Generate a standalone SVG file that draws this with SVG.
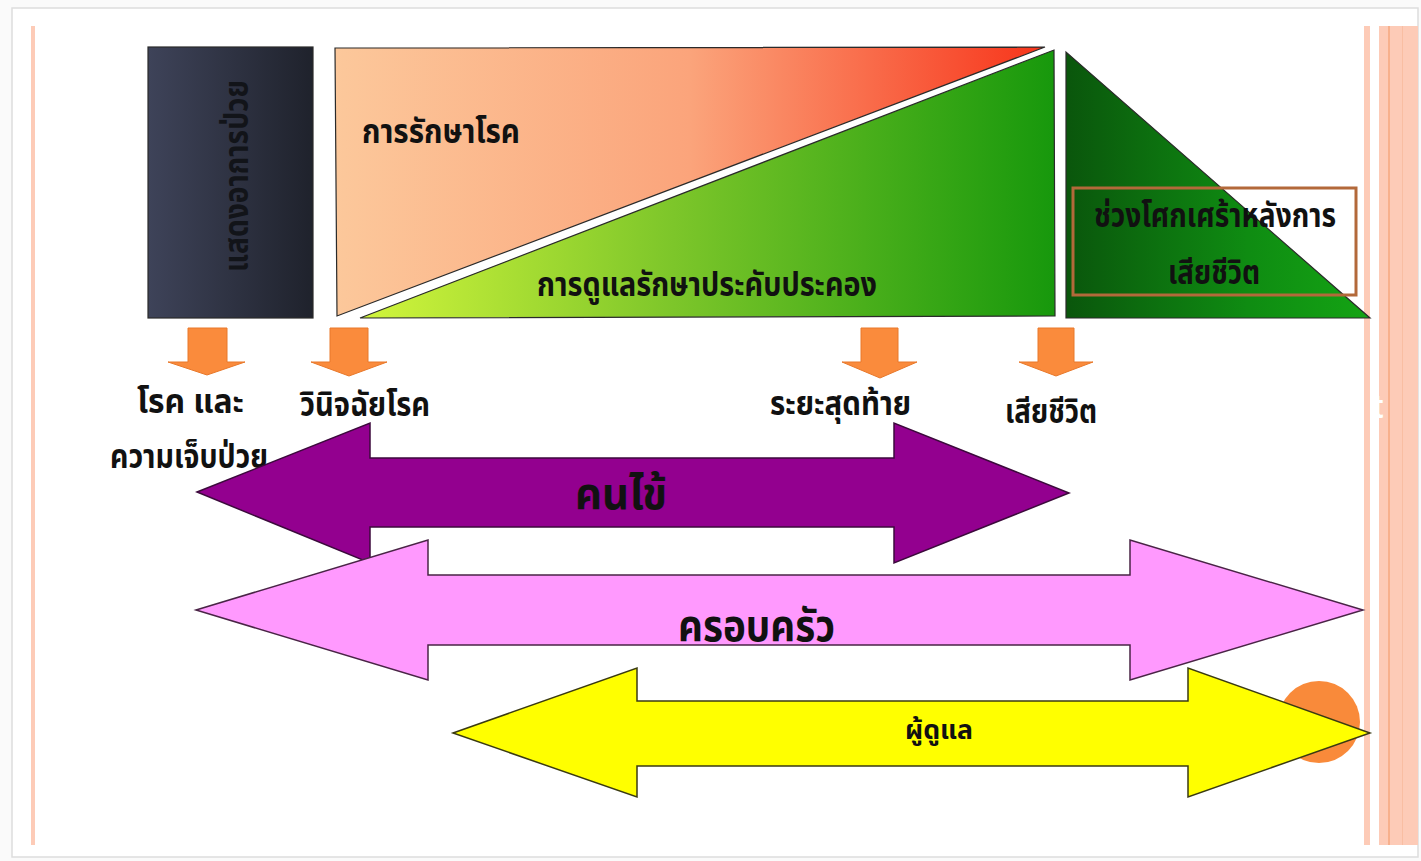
<svg xmlns="http://www.w3.org/2000/svg" width="1421" height="861" viewBox="0 0 1421 861">
<defs>
<linearGradient id="gDark" x1="0" y1="0" x2="1" y2="0"><stop offset="0" stop-color="#3e4359"/><stop offset="1" stop-color="#1f222c"/></linearGradient>
<linearGradient id="gRed" x1="0" y1="0" x2="1" y2="0"><stop offset="0" stop-color="#fcc89b"/><stop offset="0.5" stop-color="#fba47b"/><stop offset="1" stop-color="#f7341a"/></linearGradient>
<linearGradient id="gGreen" x1="0" y1="0" x2="1" y2="0"><stop offset="0" stop-color="#d2f53c"/><stop offset="0.45" stop-color="#7dc62a"/><stop offset="1" stop-color="#17980c"/></linearGradient>
<linearGradient id="gDkGreen" x1="0" y1="0" x2="1" y2="0"><stop offset="0" stop-color="#0a560c"/><stop offset="0.6" stop-color="#0f8c12"/><stop offset="1" stop-color="#14a414"/></linearGradient>
</defs>
<style>
.t{font-family:"Noto Sans Thai","Noto Sans","DejaVu Sans",sans-serif;font-weight:bold;fill:#111;}
.down{fill:#fa8b3c;stroke:#e8782a;stroke-width:1;}
.edge{stroke:#2a2a2a;stroke-width:1.2;}
.strip{fill:#fdcbb7;}
</style>
<rect x="0" y="0" width="1421" height="861" fill="#fafafa"/>
<rect x="12" y="8" width="1406" height="849" fill="#ffffff" stroke="#dddddd" stroke-width="1.5"/>
<g id="frame">
<rect class="strip" x="31" y="26" width="4" height="819"/>
<rect class="strip" x="1364" y="26" width="6" height="819"/>
<rect class="strip" x="1379" y="26" width="39" height="819"/>
<rect x="1388" y="26" width="2" height="819" fill="#f7b08c"/>
<rect x="1402" y="26" width="1" height="819" fill="#f9bea2"/>
<text x="1372" y="418" font-family="Liberation Sans, sans-serif" font-weight="bold" font-size="34" fill="#ffffff">t</text>
</g>
<g id="symptom">
<rect x="148" y="47" width="165" height="271" fill="url(#gDark)" class="edge"/>
<text transform="translate(248,176) rotate(-90)" text-anchor="middle" font-family="Noto Sans Thai, Noto Sans, DejaVu Sans, sans-serif" font-weight="bold" font-size="34" fill="#121419" textLength="192" lengthAdjust="spacingAndGlyphs">แสดงอาการป่วย</text>
</g>
<g id="cure">
<polygon points="335,48 1045,47 337,316" fill="url(#gRed)" class="edge"/>
<text class="t" x="362" y="143" font-size="34" textLength="158" lengthAdjust="spacingAndGlyphs">การรักษาโรค</text>
</g>
<g id="palliative">
<polygon points="360,318 1054,50 1055,316" fill="url(#gGreen)" class="edge"/>
<text class="t" x="537" y="296" font-size="34" textLength="340" lengthAdjust="spacingAndGlyphs">การดูแลรักษาประคับประคอง</text>
</g>
<g id="grief">
<polygon points="1066,52 1066,318 1370,318" fill="url(#gDkGreen)" class="edge"/>
<rect x="1073" y="188" width="283" height="107" fill="none" stroke="#b3693a" stroke-width="3"/>
<text class="t" x="1094" y="227" font-size="34" textLength="242" lengthAdjust="spacingAndGlyphs">ช่วงโศกเศร้าหลังการ</text>
<text class="t" x="1168" y="284" font-size="34" textLength="92" lengthAdjust="spacingAndGlyphs">เสียชีวิต</text>
</g>
<g id="connectors">
<polygon class="down" points="188,328 227,328 227,362 245,362 207,375 168,362 188,362"/>
<polygon class="down" points="330,328 368,328 368,362 387,362 349,376 311,362 330,362"/>
<polygon class="down" points="861,328 898,328 898,362 917,362 880,378 842,362 861,362"/>
<polygon class="down" points="1038,328 1074,328 1074,362 1093,362 1056,376 1019,362 1038,362"/>
</g>
<g id="stage-labels">
<text class="t" x="137" y="413" font-size="34" textLength="107" lengthAdjust="spacingAndGlyphs">โรค และ</text>
<text class="t" x="110" y="468" font-size="34" textLength="158" lengthAdjust="spacingAndGlyphs">ความเจ็บป่วย</text>
<text class="t" x="300" y="416" font-size="34" textLength="130" lengthAdjust="spacingAndGlyphs">วินิจฉัยโรค</text>
<text class="t" x="770" y="415" font-size="34" textLength="141" lengthAdjust="spacingAndGlyphs">ระยะสุดท้าย</text>
<text class="t" x="1005" y="423" font-size="34" textLength="92" lengthAdjust="spacingAndGlyphs">เสียชีวิต</text>
</g>
<g id="patient">
<polygon points="197,492 370,423 370,458 894,458 894,423 1069,493 894,563 894,527 370,527 370,563" fill="#93008f" stroke="#3c0a3c" stroke-width="1.5"/>
<text class="t" x="575" y="509" font-size="44" textLength="92" lengthAdjust="spacingAndGlyphs">คนไข้</text>
</g>
<g id="family">
<polygon points="196,610 428,540 428,575 1130,575 1130,540 1363,610 1130,680 1130,645 428,645 428,680" fill="#ff99fe" stroke="#4a2446" stroke-width="1.5"/>
<text class="t" x="678" y="641" font-size="44" textLength="157" lengthAdjust="spacingAndGlyphs">ครอบครัว</text>
</g>
<g id="caregiver">
<circle cx="1319" cy="722" r="41" fill="#f98a3a"/>
<polygon points="453,733 637,668 637,701 1188,701 1188,668 1370,733 1188,797 1188,766 637,766 637,797" fill="#ffff00" stroke="#3a3a12" stroke-width="1.5"/>
<text class="t" x="905" y="739" font-size="27" textLength="68" lengthAdjust="spacingAndGlyphs">ผู้ดูแล</text>
</g>
</svg>
